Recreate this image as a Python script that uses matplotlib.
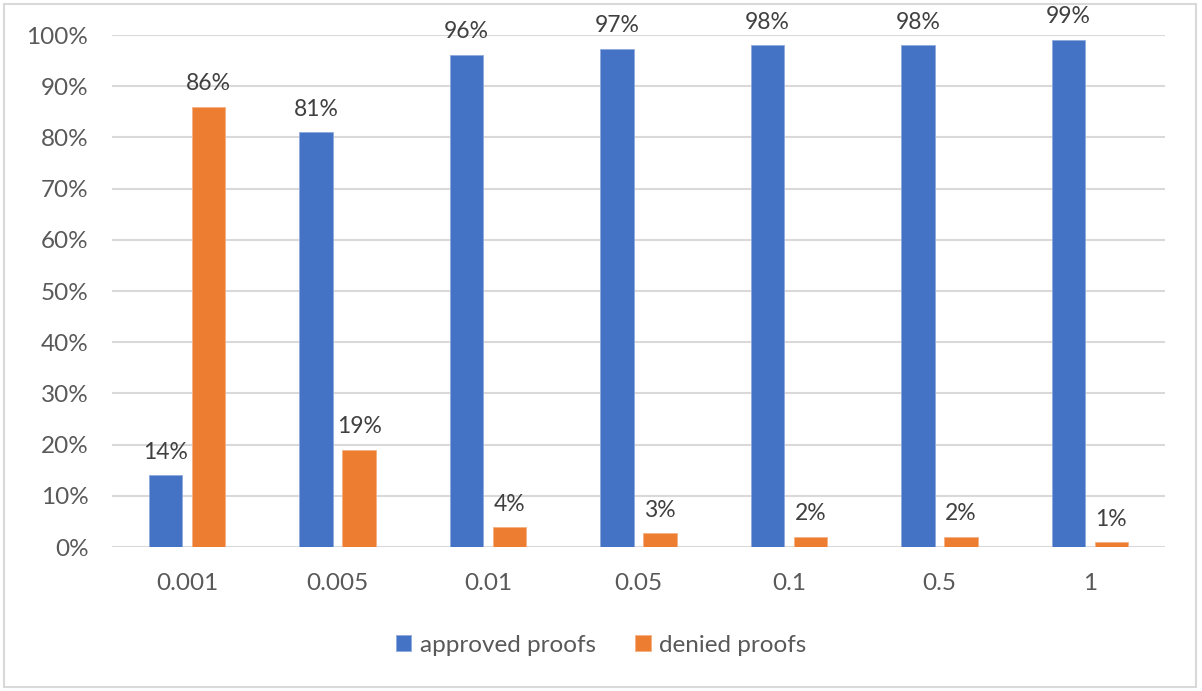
import numpy as np
import matplotlib
matplotlib.use("Agg")
import matplotlib.pyplot as plt
from matplotlib.patches import Rectangle
from matplotlib.ticker import FuncFormatter

plt.rcParams['font.family'] = ['Lato', 'DejaVu Sans']

# data
categories = ['0.001', '0.005', '0.01', '0.05', '0.1', '0.5', '1']
approved = [14.0, 81.0, 96.1, 97.3, 98.0, 98.0, 99.1]
denied = [86.0, 19.0, 3.9, 2.7, 2.0, 2.0, 0.9]
series_names = ['approved proofs', 'denied proofs']

blue = '#4472C4'
orange = '#ED7D31'
grid_c = '#D9D9D9'
text_c = '#595959'
label_c = '#404040'

fig = plt.figure(figsize=(12.02, 6.91), dpi=100)
ax = fig.add_axes([112 / 1202, 1 - 547 / 691, (1165 - 112) / 1202, (547 - 35) / 691])

x = np.arange(len(categories))
w = 0.223
off = 0.143
b1 = ax.bar(x - off, approved, w, color=blue, edgecolor='#8FAADC', linewidth=0.6,
            label=series_names[0], zorder=3)
b2 = ax.bar(x + off, denied, w, color=orange, edgecolor='#F4B183', linewidth=0.6,
            label=series_names[1], zorder=3)

for bars, vals in ((b1, approved), (b2, denied)):
    for r, v in zip(bars, vals):
        ax.annotate(f'{v:.0f}%', (r.get_x() + r.get_width() / 2, r.get_height()),
                    xytext=(0, 9), textcoords='offset points', ha='center', va='bottom',
                    fontsize=16.5, color=label_c)

ax.set_xlim(-0.5, len(categories) - 0.5)
ax.set_ylim(0, 100)
ax.set_yticks(np.arange(0, 101, 10))
ax.yaxis.set_major_formatter(FuncFormatter(lambda v, p: f'{v:.0f}%'))
ax.set_xticks(x)
ax.set_xticklabels(categories)
ax.tick_params(axis='both', length=0, labelsize=17.5, labelcolor=text_c)
ax.tick_params(axis='x', pad=19)
ax.tick_params(axis='y', pad=17)
ax.grid(axis='y', color=grid_c, linewidth=1.5, zorder=0)
for s in ax.spines.values():
    s.set_visible(False)

fig.legend(handles=[b1, b2], loc='center', bbox_to_anchor=(0.5, 1 - 645 / 691), ncol=2,
           frameon=False, fontsize=17.5, labelcolor=text_c, handlelength=0.65,
           handleheight=0.65, handletextpad=0.35, columnspacing=1.6)

fig.patches.append(Rectangle((4 / 1202, 4 / 691), 1 - 10 / 1202, 1 - 8 / 691,
                             transform=fig.transFigure, fill=False,
                             edgecolor=grid_c, linewidth=1.5))

fig.savefig('out.png', dpi=100, facecolor='white')
